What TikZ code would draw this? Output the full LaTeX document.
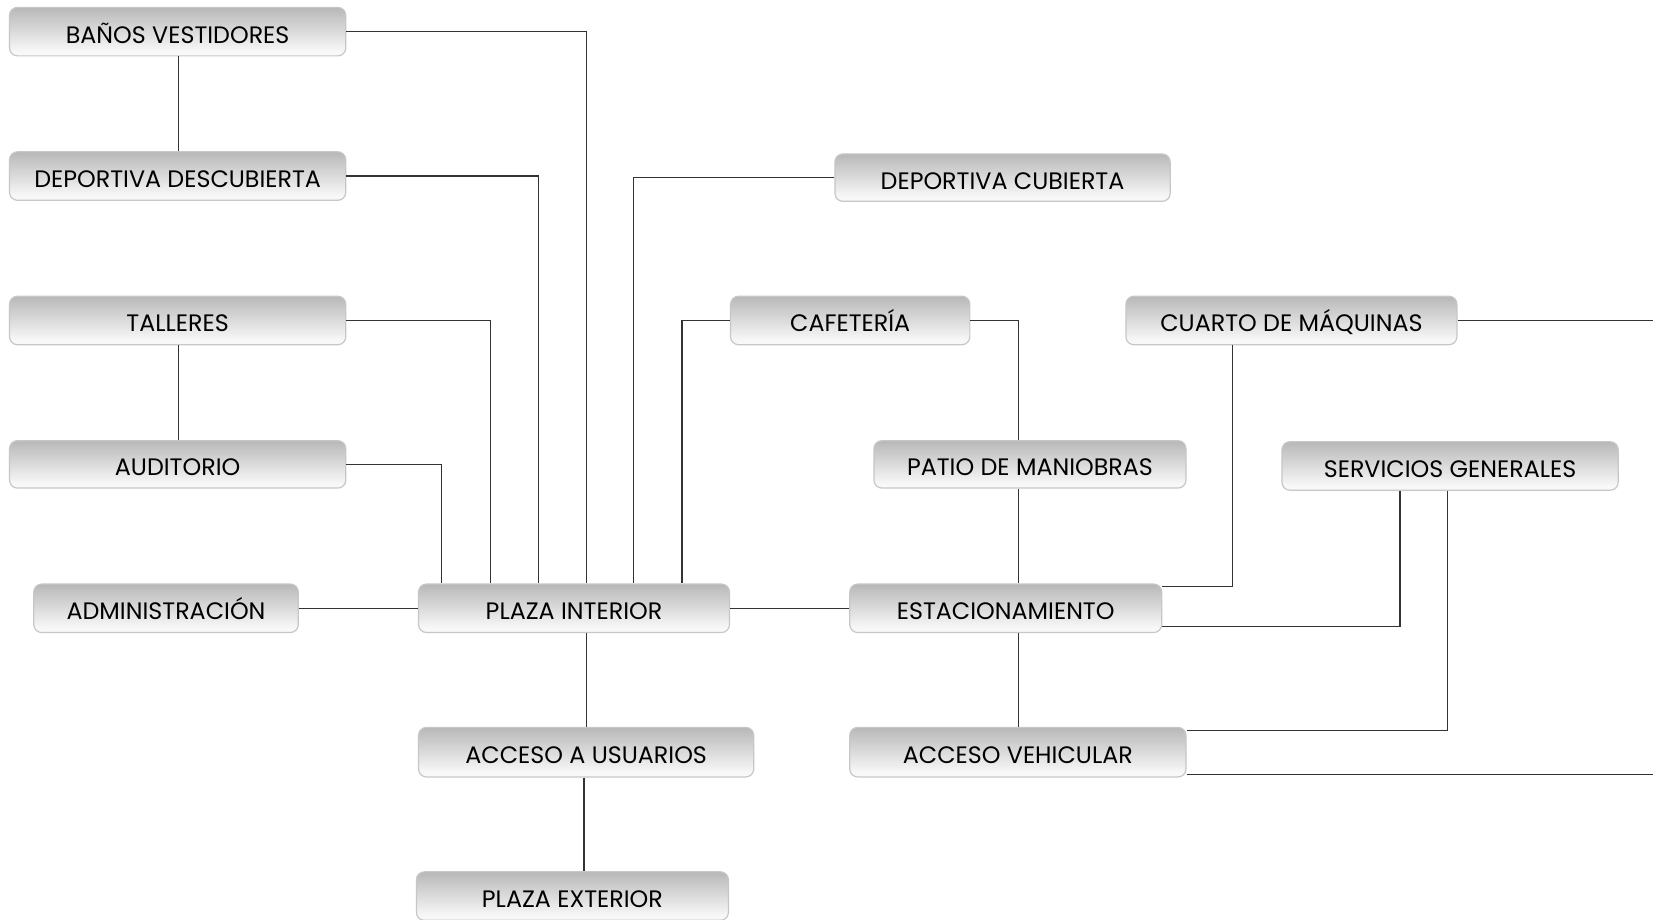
\documentclass[tikz,border=0pt]{standalone}
\usepackage{fontspec}
\setmainfont{Poppins}
\begin{document}
\pgfdeclareverticalshading{boxshade}{100bp}{color(0bp)=(white); color(30bp)=(black!3); color(70bp)=(black!25); color(100bp)=(black!45)}
\begin{tikzpicture}[x=0.5271pt,y=-0.5271pt,
  box/.style={draw=black!22, line width=0.6pt, rounded corners=4pt, shading=boxshade, inner sep=0pt, text height=11.4pt, text depth=0pt, font=\fontsize{11.9}{14}\selectfont, text=black},
  link/.style={draw=black!80, line width=0.6pt}]
\useasboundingbox (0,0) rectangle (1568,872);
\fill[white] (0,0) rectangle (1568,872);
\clip (0,0) rectangle (1568,872);
\newcommand\bx[6]{\node[box, minimum width={(#4-#2)*0.5271pt}, minimum height={(#5-#3)*0.5271pt}] (#1) at ({(#2+#4)/2},{(#3+#5)/2}) {#6};}
\bx{banos}{9}{7}{328}{53}{BAÑOS VESTIDORES}
\bx{depdesc}{9}{144}{328}{190}{DEPORTIVA DESCUBIERTA}
\bx{talleres}{9}{281}{328}{327}{TALLERES}
\bx{auditorio}{9}{418}{328}{463}{AUDITORIO}
\bx{admin}{32}{554}{283}{600}{ADMINISTRACIÓN}
\bx{pi}{397}{554}{692}{600}{PLAZA INTERIOR}
\bx{au}{397}{690}{715}{737}{ACCESO A USUARIOS}
\bx{pe}{395}{827}{691}{873}{PLAZA EXTERIOR}
\bx{depcub}{792}{146}{1110}{191}{DEPORTIVA CUBIERTA}
\bx{cafe}{693}{281}{920}{327}{CAFETERÍA}
\bx{cuarto}{1068}{281}{1382}{327}{CUARTO DE MÁQUINAS}
\bx{patio}{829}{418}{1125}{463}{PATIO DE MANIOBRAS}
\bx{serv}{1216}{419}{1535}{465}{SERVICIOS GENERALES}
\bx{estac}{806}{554}{1102}{600}{ESTACIONAMIENTO}
\bx{av}{806}{690}{1125}{737}{ACCESO VEHICULAR}
\coordinate (edge1) at (1568,304);
\coordinate (edge2) at (1568,735);
% left column
\draw[link] (banos.east) -| (pi.north -| 556,0);
\draw[link] (banos.south -| 169,0) -- (depdesc.north -| 169,0);
\draw[link] (depdesc.east) -| (pi.north -| 511,0);
\draw[link] (talleres.east) -| (pi.north -| 465,0);
\draw[link] (talleres.south -| 169,0) -- (auditorio.north -| 169,0);
\draw[link] (auditorio.east) -| (pi.north -| 419,0);
\draw[link] (admin.east) -- (pi.west);
% centre
\draw[link] (depcub.west) -| (pi.north -| 601,0);
\draw[link] (cafe.west) -| (pi.north -| 647,0);
\draw[link] (cafe.east) -| (patio.north -| 966,0);
\draw[link] (patio.south -| 966,0) -- (estac.north -| 966,0);
\draw[link] (pi.east) -- (estac.west);
\draw[link] (pi.south -| 556,0) -- (au.north -| 556,0);
\draw[link] (au.south -| 554,0) -- (pe.north -| 554,0);
\draw[link] (estac.south -| 966,0) -- (av.north -| 966,0);
% right
\draw[link] (cuarto.south -| 1169,0) |- (estac.east |- 0,556);
\draw[link] (serv.south -| 1328,0) |- (estac.east |- 0,594);
\draw[link] (serv.south -| 1373,0) |- (av.east |- 0,693);
\draw[link] (cuarto.east) -- (edge1);
\draw[link] (av.east |- 0,735) -- (edge2);
\end{tikzpicture}
\end{document}
